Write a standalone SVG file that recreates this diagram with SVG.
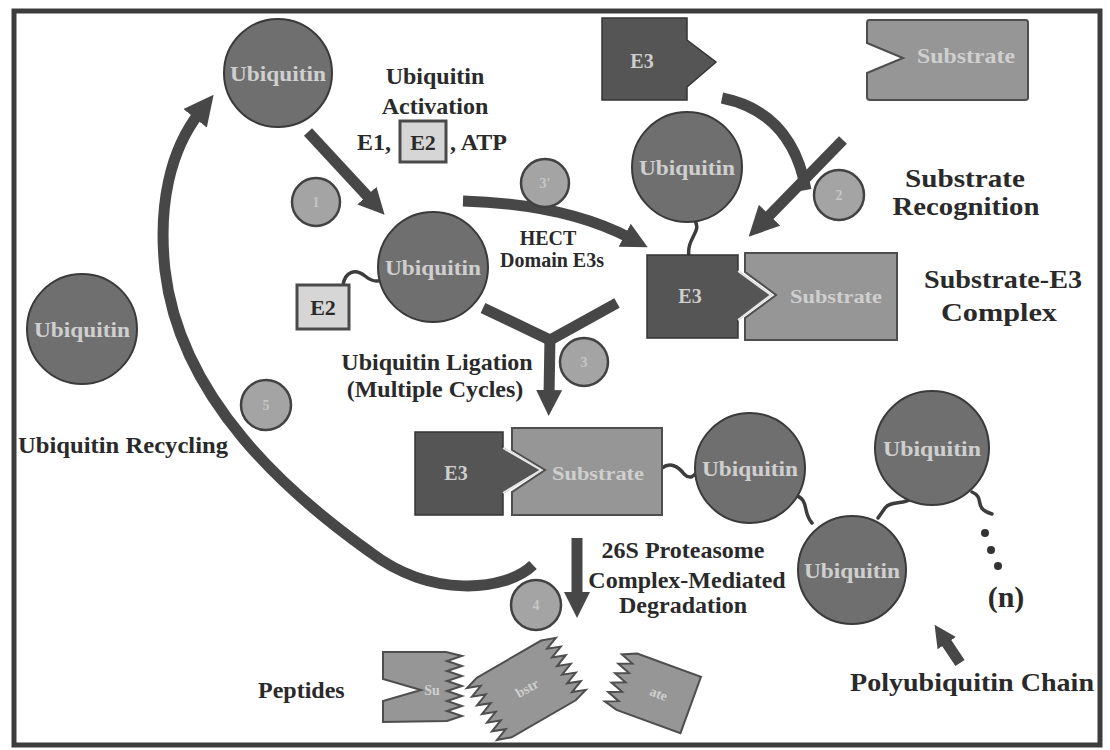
<svg xmlns="http://www.w3.org/2000/svg" width="1110" height="750" viewBox="0 0 1110 750">
<defs>
<style>
.lbl{font-family:"Liberation Serif","Times New Roman",serif;font-weight:bold;fill:#2a2a2a}
.in{font-family:"Liberation Serif","Times New Roman",serif;font-weight:bold;fill:#cfcfcf}
.num{font-family:"Liberation Serif",serif;font-weight:bold;fill:#c6c6c6;font-size:14px}
.ub{fill:#6f6f6f;stroke:#3a3a3a;stroke-width:2}
.sm{fill:#a4a4a4;stroke:#424242;stroke-width:2.5}
.e3{fill:#555;stroke:#333;stroke-width:1.5}
.sub{fill:#969696;stroke:#4e4e4e;stroke-width:2}
.e2{fill:#d6d6d6;stroke:#4a4a4a;stroke-width:3}
.arr{stroke:#474747;fill:none;stroke-width:11}
.wave{stroke:#3c3c3c;fill:none;stroke-width:3.5;stroke-linecap:round}
</style>
<marker id="ahB" viewBox="0 0 30 30" refX="8" refY="15" markerWidth="30" markerHeight="30" markerUnits="userSpaceOnUse" orient="auto"><path d="M0,0 L30,15 L0,30 Z" fill="#474747"/></marker>
<marker id="ahM" viewBox="0 0 26 26" refX="6" refY="13" markerWidth="26" markerHeight="26" markerUnits="userSpaceOnUse" orient="auto"><path d="M0,0 L26,13 L0,26 Z" fill="#474747"/></marker>
<marker id="ahS" viewBox="0 0 22 22" refX="5" refY="11" markerWidth="22" markerHeight="22" markerUnits="userSpaceOnUse" orient="auto"><path d="M0,0 L22,11 L0,22 Z" fill="#474747"/></marker>
</defs>
<rect x="0" y="0" width="1110" height="750" fill="#ffffff"/>
<rect x="14" y="11" width="1086" height="734" fill="#ffffff" stroke="#3c3c3c" stroke-width="5"/>

<g id="connectors">
<path class="arr" d="M308,132 L371,200" marker-end="url(#ahM)"/>
<path class="arr" d="M463,201 Q565,204 630,238" marker-end="url(#ahM)"/>
<path class="arr" stroke-width="13" d="M722,98 Q792,112 806,190"/>
<path class="arr" d="M843,140 L764,221" marker-end="url(#ahB)"/>
<path class="arr" stroke-width="13" d="M483,308 L550,340 L617,303"/>
<path class="arr" stroke-width="12" d="M550,337 L549,396" marker-end="url(#ahM)"/>
<path class="arr" stroke-width="9" d="M577,538 L577,598" marker-end="url(#ahM)"/>
<path class="arr" stroke-width="8" d="M960,663 L944,639" marker-end="url(#ahS)"/>
<path class="arr" stroke-width="11" d="M533,565 C505,592 430,598 370,552 C290,495 180,400 165,270 C158,205 170,150 200,112" marker-end="url(#ahB)"/>
<path class="wave" d="M343,285 C345,272 355,268 365,276 C370,280 375,283 381,280"/>
<path class="wave" d="M695,221 C702,232 686,238 689,257"/>
<path class="wave" d="M662,468 C670,462 678,466 684,474 C690,480 694,476 697,472"/>
<path class="wave" d="M795,495 C810,500 802,512 812,523"/>
<path class="wave" d="M878,518 L885,508 C891,500 905,506 915,496"/>
<path class="wave" d="M972,492 C986,498 972,508 992,514"/>
</g>

<g id="ub-top"><circle class="ub" cx="278" cy="73" r="54"/><text class="in" x="278" y="81" font-size="22" text-anchor="middle" textLength="96" lengthAdjust="spacingAndGlyphs">Ubiquitin</text></g>
<g id="ub-left"><circle class="ub" cx="82" cy="329" r="55"/><text class="in" x="82" y="337" font-size="22" text-anchor="middle" textLength="96" lengthAdjust="spacingAndGlyphs">Ubiquitin</text></g>
<g id="ub-mid"><circle class="ub" cx="433" cy="267" r="55"/><text class="in" x="433" y="275" font-size="22" text-anchor="middle" textLength="96" lengthAdjust="spacingAndGlyphs">Ubiquitin</text></g>
<g id="ub-right"><circle class="ub" cx="687" cy="167" r="55"/><text class="in" x="687" y="175" font-size="22" text-anchor="middle" textLength="96" lengthAdjust="spacingAndGlyphs">Ubiquitin</text></g>
<g id="ub-a"><circle class="ub" cx="750" cy="468" r="55"/><text class="in" x="750" y="476" font-size="22" text-anchor="middle" textLength="96" lengthAdjust="spacingAndGlyphs">Ubiquitin</text></g>
<g id="ub-b"><circle class="ub" cx="932" cy="448" r="57"/><text class="in" x="932" y="456" font-size="22" text-anchor="middle" textLength="98" lengthAdjust="spacingAndGlyphs">Ubiquitin</text></g>
<g id="ub-c"><circle class="ub" cx="852" cy="570" r="54"/><text class="in" x="852" y="578" font-size="22" text-anchor="middle" textLength="96" lengthAdjust="spacingAndGlyphs">Ubiquitin</text></g>

<g id="step1"><circle class="sm" cx="316" cy="202" r="24"/><text class="num" x="316" y="207" text-anchor="middle">1</text></g>
<g id="step-hect"><circle class="sm" cx="545" cy="183" r="24"/><text class="num" x="545" y="188" text-anchor="middle">3'</text></g>
<g id="step2"><circle class="sm" cx="839" cy="195" r="25"/><text class="num" x="839" y="200" text-anchor="middle">2</text></g>
<g id="step3"><circle class="sm" cx="584" cy="362" r="24"/><text class="num" x="584" y="367" text-anchor="middle">3</text></g>
<g id="step4"><circle class="sm" cx="536" cy="605" r="25"/><text class="num" x="536" y="610" text-anchor="middle">4</text></g>
<g id="step5"><circle class="sm" cx="266" cy="405" r="25"/><text class="num" x="266" y="410" text-anchor="middle">5</text></g>

<g id="e3-top"><path class="e3" d="M602,18 L687,18 L687,40 L716,62 L687,87 L687,100 L602,100 Z"/><text class="in" x="642" y="68" font-size="20" text-anchor="middle">E3</text></g>
<g id="substrate-top"><path class="sub" d="M869,20 L1026,20 Q1028,20 1028,23 L1028,98 Q1028,100 1025,100 L870,100 Q867,100 867,97 L867,73 L903,58 L867,43 L867,23 Q867,20 869,20 Z"/><text class="in" x="966" y="63" font-size="20" text-anchor="middle" textLength="98" lengthAdjust="spacingAndGlyphs">Substrate</text></g>

<g id="complex-mid">
<path class="sub" d="M745,253 L897,253 L897,340 L745,340 L745,318 L776,295 L745,272 Z"/>
<path class="e3" d="M647,255 L738,255 L738,271 L771,295 L738,320 L738,338 L647,338 Z"/>
<path d="M738,271 L771,295 L738,320" fill="none" stroke="#e8e8e8" stroke-width="2"/>
<text class="in" x="690" y="303" font-size="20" text-anchor="middle">E3</text>
<text class="in" x="836" y="303" font-size="18" text-anchor="middle" textLength="92" lengthAdjust="spacingAndGlyphs">Substrate</text>
</g>

<g id="complex-bottom">
<path class="sub" d="M512,428 L662,428 L662,515 L512,515 L512,492 L545,470 L512,450 Z"/>
<path class="e3" d="M415,432 L503,432 L503,448 L541,470 L503,493 L503,515 L415,515 Z"/>
<path d="M503,448 L541,470 L503,493" fill="none" stroke="#e8e8e8" stroke-width="2"/>
<text class="in" x="456" y="480" font-size="20" text-anchor="middle">E3</text>
<text class="in" x="598" y="480" font-size="18" text-anchor="middle" textLength="92" lengthAdjust="spacingAndGlyphs">Substrate</text>
</g>

<g id="e2-mid"><rect class="e2" x="297" y="285" width="52" height="44"/><text class="lbl" x="323" y="315" font-size="22" text-anchor="middle">E2</text></g>

<g id="peptide1">
<path class="sub" d="M383,652 L446,652 L462,656 L447,661 L462,666 L447,671 L462,676 L447,681 L462,686 L447,691 L462,696 L447,701 L462,706 L447,711 L462,716 L447,721 L383,722 L383,701 L421,690 L383,679 Z"/>
<text class="in" x="432" y="695" font-size="14" text-anchor="middle">Su</text>
</g>
<g id="peptide2" transform="translate(527,688) rotate(-30)">
<path class="sub" d="M-38,-34 L36,-34 L50,-29 L37,-24 L50,-19 L37,-14 L50,-9 L37,-4 L50,1 L37,6 L50,11 L37,16 L50,21 L37,26 L50,31 L36,35 L-38,35 L-52,30 L-39,25 L-52,20 L-39,15 L-52,10 L-39,5 L-52,0 L-39,-5 L-52,-10 L-39,-15 L-52,-20 L-39,-25 L-52,-30 Z"/>
<text class="in" x="0" y="5" font-size="14" text-anchor="middle">bstr</text>
</g>
<g id="peptide3" transform="translate(655,692) rotate(20)">
<path class="sub" d="M-30,-30 L38,-30 L38,30 L-30,30 L-44,26 L-31,21 L-44,16 L-31,11 L-44,6 L-31,1 L-44,-4 L-31,-9 L-44,-14 L-31,-19 L-44,-24 Z"/>
<text class="in" x="4" y="5" font-size="14" text-anchor="middle">ate</text>
</g>

<g id="labels">
<text class="lbl" x="435" y="84" font-size="24" text-anchor="middle">Ubiquitin</text>
<text class="lbl" x="435" y="114" font-size="24" text-anchor="middle">Activation</text>
<text class="lbl" x="357" y="150" font-size="24">E1,</text>
<rect class="e2" x="400" y="121" width="46" height="41"/>
<text class="lbl" x="423" y="150" font-size="22" text-anchor="middle">E2</text>
<text class="lbl" x="450" y="150" font-size="24">, ATP</text>
<text class="lbl" x="548" y="245" font-size="20" text-anchor="middle">HECT</text>
<text class="lbl" x="552" y="267" font-size="20" text-anchor="middle">Domain E3s</text>
<text class="lbl" x="965" y="187" font-size="26" text-anchor="middle" textLength="120" lengthAdjust="spacingAndGlyphs">Substrate</text>
<text class="lbl" x="966" y="215" font-size="26" text-anchor="middle" textLength="147" lengthAdjust="spacingAndGlyphs">Recognition</text>
<text class="lbl" x="1003" y="288" font-size="26" text-anchor="middle" textLength="158" lengthAdjust="spacingAndGlyphs">Substrate-E3</text>
<text class="lbl" x="999" y="321" font-size="26" text-anchor="middle" textLength="116" lengthAdjust="spacingAndGlyphs">Complex</text>
<text class="lbl" x="437" y="370" font-size="24" text-anchor="middle">Ubiquitin Ligation</text>
<text class="lbl" x="435" y="397" font-size="24" text-anchor="middle">(Multiple Cycles)</text>
<text class="lbl" x="18" y="453" font-size="24" textLength="210" lengthAdjust="spacingAndGlyphs">Ubiquitin Recycling</text>
<text class="lbl" x="683" y="558" font-size="24" text-anchor="middle">26S Proteasome</text>
<text class="lbl" x="687" y="588" font-size="24" text-anchor="middle">Complex-Mediated</text>
<text class="lbl" x="683" y="613" font-size="24" text-anchor="middle">Degradation</text>
<text class="lbl" x="258" y="698" font-size="24">Peptides</text>
<text class="lbl" x="850" y="691" font-size="26" textLength="244" lengthAdjust="spacingAndGlyphs">Polyubiquitin Chain</text>
<text class="lbl" x="1006" y="607" font-size="30" text-anchor="middle">(n)</text>
<circle cx="985" cy="533" r="4" fill="#333"/>
<circle cx="991" cy="550" r="4" fill="#333"/>
<circle cx="998" cy="566" r="4" fill="#333"/>
</g>
</svg>
